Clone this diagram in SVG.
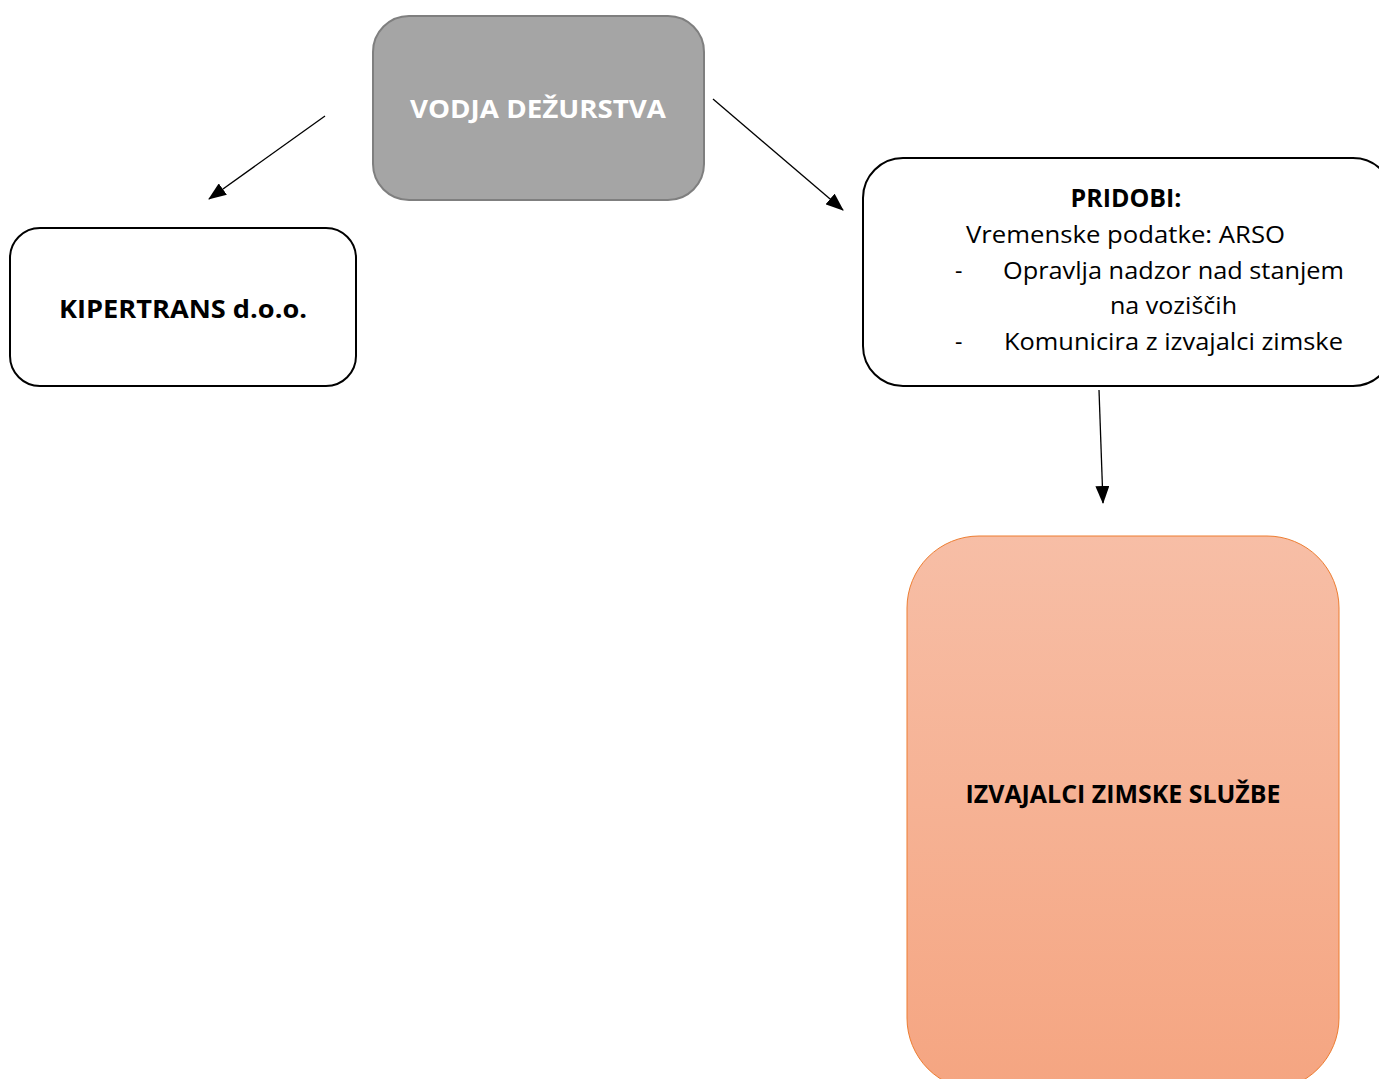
<svg xmlns="http://www.w3.org/2000/svg" width="1379" height="1079" viewBox="0 0 1379 1079">
<style>
.t{font-family:"Open Sans","Noto Sans","DejaVu Sans",sans-serif;font-size:23px;fill:#000}
.b{font-weight:bold;font-size:25px}
.w{fill:#fff}
.box{fill:#fff;stroke:#000;stroke-width:2}
.con{stroke:#000;stroke-width:1.3;fill:none;marker-end:url(#ah)}
</style>
<defs>
<marker id="ah" markerUnits="userSpaceOnUse" markerWidth="18" markerHeight="14" refX="17" refY="7" orient="auto">
<path d="M0,0 L18,7 L0,14 Z" fill="#000"/>
</marker>
<linearGradient id="og" x1="0" y1="0" x2="0" y2="1">
<stop offset="0" stop-color="#f7bea6"/>
<stop offset="1" stop-color="#f5a581"/>
</linearGradient>
</defs>
<rect width="1379" height="1079" fill="#fff"/>
<g id="connectors">
<line class="con" x1="325" y1="116" x2="209" y2="199"/>
<line class="con" x1="713" y1="99" x2="843" y2="210"/>
<line class="con" x1="1099" y1="390" x2="1103" y2="503"/>
</g>
<g id="vodja">
<rect x="373" y="16" width="331" height="184" rx="36" fill="#a5a5a5" stroke="#7f7f7f" stroke-width="2"/>
<text class="t b w" x="538" y="118" text-anchor="middle" textLength="256" lengthAdjust="spacingAndGlyphs">VODJA DEŽURSTVA</text>
</g>
<g id="kipertrans">
<rect class="box" x="10" y="228" width="346" height="158" rx="30"/>
<text class="t b" x="183" y="318" text-anchor="middle" textLength="248" lengthAdjust="spacingAndGlyphs">KIPERTRANS d.o.o.</text>
</g>
<g id="pridobi">
<rect class="box" x="863" y="158" width="530" height="228" rx="40"/>
<text class="t b" x="1126" y="207" text-anchor="middle" textLength="111" lengthAdjust="spacingAndGlyphs">PRIDOBI:</text>
<text class="t" x="966" y="243" textLength="319" lengthAdjust="spacingAndGlyphs">Vremenske podatke: ARSO</text>
<text class="t" x="955" y="279">-</text>
<text class="t" x="1003" y="279" textLength="341" lengthAdjust="spacingAndGlyphs">Opravlja nadzor nad stanjem</text>
<text class="t" x="1110" y="314" textLength="127" lengthAdjust="spacingAndGlyphs">na voziščih</text>
<text class="t" x="955" y="350">-</text>
<text class="t" x="1004" y="350" textLength="339" lengthAdjust="spacingAndGlyphs">Komunicira z izvajalci zimske</text>
</g>
<g id="izvajalci">
<rect x="907" y="536" width="432" height="554" rx="72" fill="url(#og)" stroke="#ed7d31" stroke-width="1"/>
<text class="t b" x="1123" y="803" text-anchor="middle" textLength="315" lengthAdjust="spacingAndGlyphs">IZVAJALCI ZIMSKE SLUŽBE</text>
</g>
</svg>
